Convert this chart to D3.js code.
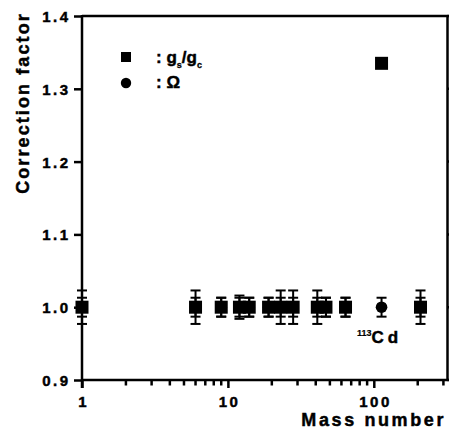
<!DOCTYPE html>
<html><head><meta charset="utf-8">
<script src="https://cdn.jsdelivr.net/npm/d3@7"></script>
<style>
html,body{margin:0;padding:0;background:#fff;}
svg{display:block;}
text{font-family:"Liberation Sans",Arial,Helvetica,sans-serif;font-weight:bold;fill:#000;stroke:#000;stroke-width:0.45px;}
</style></head>
<body>
<svg id="c" width="449" height="430"></svg>
<script>
// ---- data ----
const masses   = [1, 6, 9, 12, 14, 19, 23, 28, 41, 47, 64, 113, 209];
const gsgc     = [1, 1, 1, 1, 1, 1, 1, 1, 1, 1, 1, 1.335, 1];
const gsgcErr  = [0.023, 0.023, 0.013, 0.016, 0.013, 0.013, 0.023, 0.023, 0.023, 0.013, 0.013, 0, 0.023];
const omega    = [1, 1, 1, 1, 1, 1, 1, 1, 1, 1, 1, 1, 1];
const omegaErr = [0.013, 0.013, 0.013, 0.013, 0.013, 0.013, 0.013, 0.013, 0.013, 0.013, 0.013, 0.013, 0.013];
const yTicks = [0.9, 1.0, 1.1, 1.2, 1.3, 1.4];
const xMajor = [1, 10, 100];
const xMinor = [2,3,4,5,6,7,8,9,20,30,40,50,60,70,80,90,200,300];

const svg = d3.select("#c");
const L = 82, R = 447.5, T = 16, B = 380;
const x = d3.scaleLog().domain([1, 320]).range([L, R]);
const y = d3.scaleLinear().domain([0.9, 1.4]).range([B, T]);

// frame top & right
svg.append("line").attr("x1", L).attr("x2", R+1).attr("y1", T).attr("y2", T)
  .attr("stroke", "#000").attr("stroke-width", 2.5);
svg.append("line").attr("x1", R).attr("x2", R).attr("y1", T).attr("y2", B)
  .attr("stroke", "#000").attr("stroke-width", 2.5);

// right ticks (outward)
svg.append("g").selectAll("line").data(yTicks).join("line")
  .attr("x1", R).attr("x2", R+7).attr("y1", d=>y(d)).attr("y2", d=>y(d))
  .attr("stroke", "#000").attr("stroke-width", 2.5);

// y axis
const yAxis = d3.axisLeft(y).tickValues(yTicks).tickFormat(d3.format(".1f")).tickSize(8).tickPadding(6);
const gy = svg.append("g").attr("transform", `translate(${L},0)`).call(yAxis);
gy.select(".domain").attr("stroke-width", 2.5).attr("d", `M0,${T-1}V${B+8}`);
gy.selectAll(".tick line").attr("stroke-width", 2.5);
gy.selectAll(".tick text").style("font-size", "15px").style("letter-spacing", "2.5px")
  .attr("dx", "2.5px").attr("dy", "0.36em");

// x axis
const xAxis = d3.axisBottom(x).tickValues(xMajor).tickFormat(d3.format("d")).tickSize(8).tickPadding(8);
const gx = svg.append("g").attr("transform", `translate(0,${B})`).call(xAxis);
gx.select(".domain").attr("stroke-width", 2.5).attr("d", `M${L-1},0H${R+1}`);
gx.selectAll(".tick line").attr("stroke-width", 2.5);
gx.selectAll(".tick text").style("font-size", "15px").style("letter-spacing", "2.5px")
  .attr("dx", "1.2px");
gx.append("g").selectAll("line").data(xMinor).join("line")
  .attr("x1", d=>x(d)).attr("x2", d=>x(d)).attr("y1", 0).attr("y2", 5.5)
  .attr("stroke", "#000").attr("stroke-width", 2.5);

// axis titles
svg.append("text").attr("x", 446).attr("y", 426).attr("text-anchor", "end")
  .style("font-size", "18px").style("letter-spacing", "2.6px").text("Mass number");
svg.append("text").attr("transform", "translate(29,103) rotate(-90)").attr("text-anchor", "middle")
  .style("font-size", "18px").style("letter-spacing", "2.1px").text("Correction factor");

// error bars
function errBars(vals, errs) {
  const g = svg.append("g").attr("stroke", "#000").attr("stroke-width", 2);
  masses.forEach((m, i) => {
    if (!errs[i]) return;
    const cx = x(m), y1 = y(vals[i] + errs[i]), y2 = y(vals[i] - errs[i]);
    g.append("line").attr("x1", cx).attr("x2", cx).attr("y1", y1).attr("y2", y2);
    g.append("line").attr("x1", cx-5).attr("x2", cx+5).attr("y1", y1).attr("y2", y1);
    g.append("line").attr("x1", cx-5).attr("x2", cx+5).attr("y1", y2).attr("y2", y2);
  });
}
errBars(omega, omegaErr);
errBars(gsgc, gsgcErr);

// circles (omega)
svg.append("g").selectAll("circle").data(masses).join("circle")
  .attr("cx", d=>x(d)).attr("cy", (d,i)=>y(omega[i])).attr("r", 5.8).attr("fill", "#000");
// squares (gs/gc)
svg.append("g").selectAll("rect").data(masses).join("rect")
  .attr("x", d=>x(d)-6.5).attr("y", (d,i)=>y(gsgc[i])-6.5).attr("width", 13).attr("height", 13).attr("fill", "#000");

// legend
svg.append("rect").attr("x", 121).attr("y", 52).attr("width", 10).attr("height", 10).attr("fill", "#000");
svg.append("circle").attr("cx", 126).attr("cy", 83).attr("r", 5.2).attr("fill", "#000");
const t1 = svg.append("text").attr("x", 156).attr("y", 63).style("font-size", "17px");
t1.append("tspan").text(":\u00a0g");
t1.append("tspan").attr("dy", 5).style("font-size", "9px").style("stroke-width", "0.3px").text("s");
t1.append("tspan").attr("dy", -5).text("/g");
t1.append("tspan").attr("dy", 5).style("font-size", "9px").style("stroke-width", "0.3px").text("c");
svg.append("text").attr("x", 156).attr("y", 88).style("font-size", "17px").text(":\u00a0\u03a9");

// 113Cd label
const cd = svg.append("text").attr("x", 357).attr("y", 343).style("font-size", "17px");
cd.append("tspan").attr("dy", -7).style("font-size", "9px").style("stroke-width", "0.2px").text("113");
cd.append("tspan").attr("dy", 7).style("letter-spacing", "4px").text("Cd");
</script>
</body></html>
